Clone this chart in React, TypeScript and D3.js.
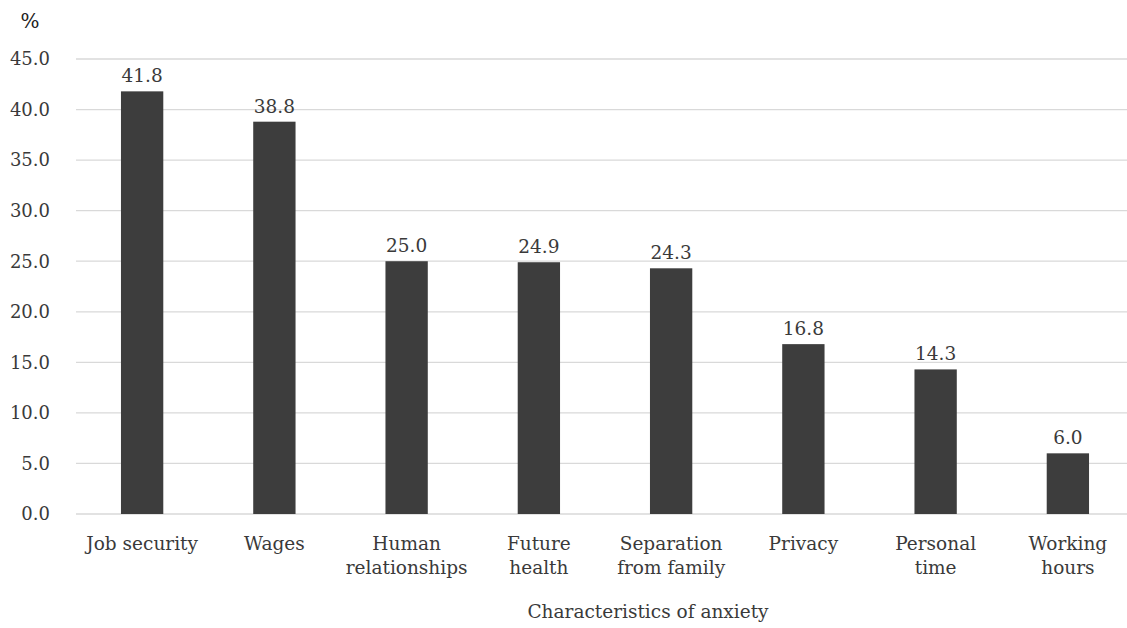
import React from "react";
import * as d3 from "d3";

const categories: string[][] = [
  ["Job security"],
  ["Wages"],
  ["Human", "relationships"],
  ["Future", "health"],
  ["Separation", "from family"],
  ["Privacy"],
  ["Personal", "time"],
  ["Working", "hours"],
];
const values: number[] = [41.8, 38.8, 25.0, 24.9, 24.3, 16.8, 14.3, 6.0];
const yTicks: number[] = [0, 5, 10, 15, 20, 25, 30, 35, 40, 45];
const yUnit = "%";
const xTitle = "Characteristics of anxiety";

const W = 1127;
const H = 628;
const left = 76;
const right = 1134;
const top = 59;
const bottom = 514;
const FONT = "'DejaVu Serif', serif";
const TEXT = "#3a3a3a";

export default function App() {
  const x = d3
    .scaleBand<number>()
    .domain(d3.range(values.length))
    .range([left, right])
    .paddingInner(0.68)
    .paddingOuter(0.34);
  const y = d3.scaleLinear().domain([0, 45]).range([bottom, top]);

  return (
    <svg
      width={W}
      height={H}
      style={{ position: "absolute", left: 0, top: 0, background: "#fff" }}
      fontFamily={FONT}
    >
      <rect x={0} y={0} width={W} height={H} fill="#fff" />
      {yTicks.map((t) => (
        <g key={t}>
          <line x1={left} x2={right} y1={y(t)} y2={y(t)} stroke="#d9d9d9" strokeWidth={1.3} />
          <text x={50} y={y(t)} dy="0.35em" textAnchor="end" fontSize={18} fill={TEXT}>
            {t.toFixed(1)}
          </text>
        </g>
      ))}
      <text x={30} y={28} textAnchor="middle" fontSize={20} fill="#222">
        {yUnit}
      </text>
      {values.map((v, i) => {
        const bx = x(i)!;
        const bw = x.bandwidth();
        return (
          <g key={i}>
            <rect x={bx} y={y(v)} width={bw} height={y(0) - y(v)} fill="#3d3d3d" />
            <text x={bx + bw / 2} y={y(v) - 9} textAnchor="middle" fontSize={18.5} fill={TEXT}>
              {v.toFixed(1)}
            </text>
            {categories[i].map((line, j) => (
              <text
                key={j}
                x={bx + bw / 2}
                y={550 + j * 24}
                textAnchor="middle"
                fontSize={18.5}
                fill={TEXT}
              >
                {line}
              </text>
            ))}
          </g>
        );
      })}
      <text x={648} y={618} textAnchor="middle" fontSize={18.5} fill={TEXT}>
        {xTitle}
      </text>
    </svg>
  );
}
